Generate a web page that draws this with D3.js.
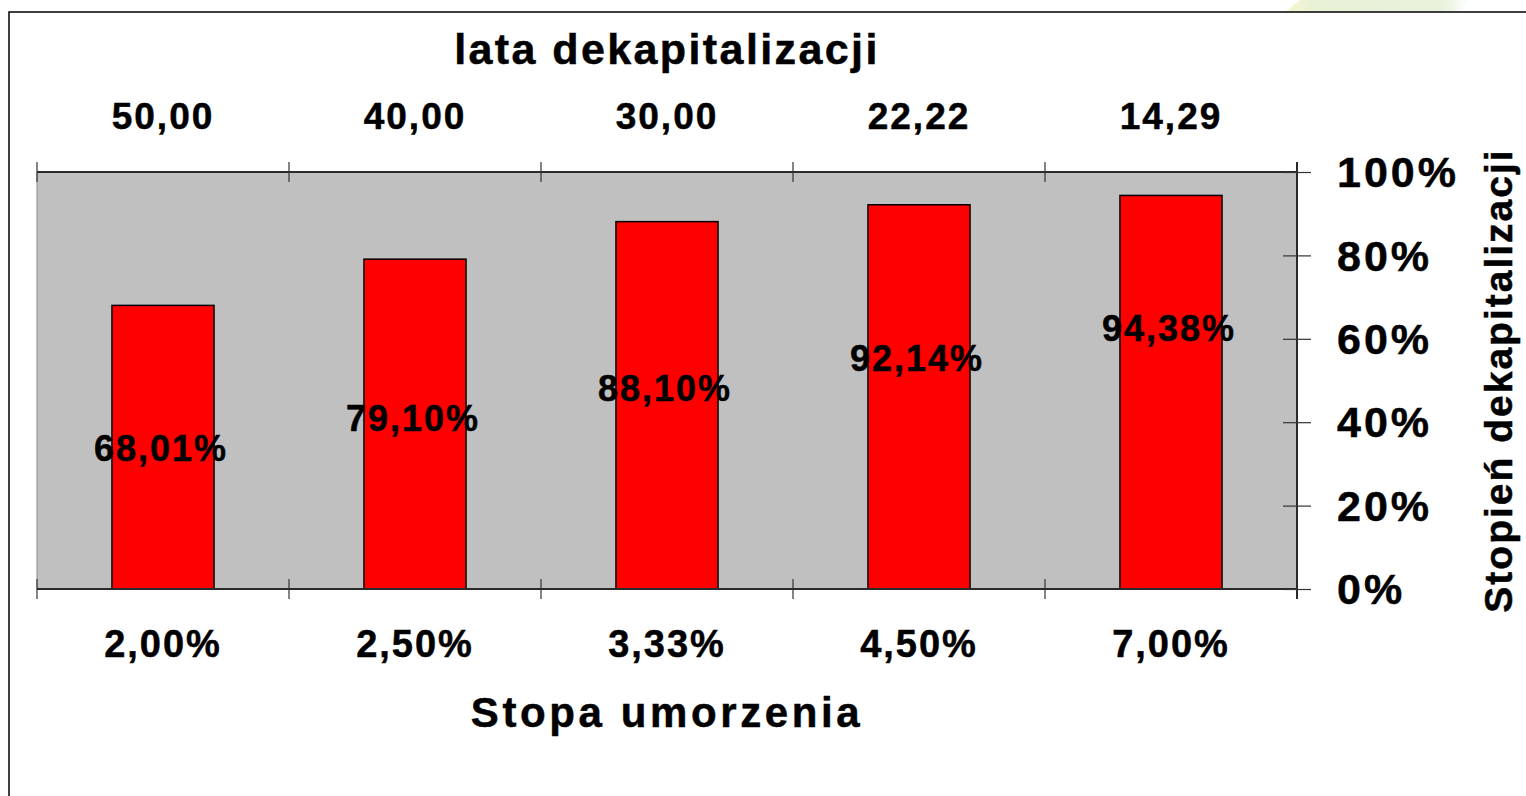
<!DOCTYPE html>
<html>
<head>
<meta charset="utf-8">
<script src="https://cdn.jsdelivr.net/npm/d3@7"></script>
<style>
  body { margin: 0; background: #fff; }
  text { font-family: "Liberation Sans", Arial, sans-serif; font-weight: bold; fill: #000; stroke: #000; stroke-width: 0.5px; }
</style>
</head>
<body>
<div id="container"></div>
<script>
const w = 1526;
const h = 796;

// data
const years = ["50,00", "40,00", "30,00", "22,22", "14,29"];       // lata dekapitalizacji (top)
const rates = ["2,00%", "2,50%", "3,33%", "4,50%", "7,00%"];       // stopa umorzenia (bottom)
const degree = [68.01, 79.10, 88.10, 92.14, 94.38];                // stopień dekapitalizacji
const yTicks = [0, 20, 40, 60, 80, 100];

const plot = { left: 37, right: 1297, top: 172, bottom: 589 };

const svg = d3.select("#container").append("svg")
  .attr("width", w).attr("height", h);

// faint background decoration in the top right corner
const grad = svg.append("defs").append("linearGradient")
  .attr("id", "deco").attr("x1", "0").attr("x2", "1");
grad.append("stop").attr("offset", "0").attr("stop-color", "#f7f4cf");
grad.append("stop").attr("offset", "0.2").attr("stop-color", "#e6f1d6");
grad.append("stop").attr("offset", "0.85").attr("stop-color", "#e9f2dc");
grad.append("stop").attr("offset", "1").attr("stop-color", "#ffffff");
svg.append("polygon")
  .attr("points", "1285,12 1300,0 1470,0 1460,12")
  .attr("fill", "url(#deco)");

// outer frame
svg.append("rect")
  .attr("x", 9).attr("y", 12)
  .attr("width", 1600).attr("height", 900)
  .attr("fill", "#fff").attr("stroke", "#000").attr("stroke-width", 1.5);

const x = d3.scaleBand()
  .domain(rates)
  .range([plot.left, plot.right])
  .paddingInner(0.595)
  .paddingOuter(0.2975);

const xEdge = d3.scaleLinear()
  .domain([0, rates.length])
  .range([plot.left, plot.right]);

const y = d3.scaleLinear()
  .domain([0, 100])
  .range([plot.bottom, plot.top]);

// plot area
svg.append("rect")
  .attr("x", plot.left).attr("y", plot.top)
  .attr("width", plot.right - plot.left).attr("height", plot.bottom - plot.top)
  .attr("fill", "#c0c0c0");
svg.append("line")
  .attr("x1", plot.left).attr("x2", plot.left)
  .attr("y1", plot.top).attr("y2", plot.bottom)
  .attr("stroke", "#8a8a8a").attr("stroke-width", 1);

// bars
svg.selectAll("rect.bar").data(degree).enter().append("rect")
  .attr("class", "bar")
  .attr("x", (d, i) => x(rates[i]))
  .attr("y", d => y(d))
  .attr("width", x.bandwidth())
  .attr("height", d => y(0) - y(d))
  .attr("fill", "#ff0000")
  .attr("stroke", "#000")
  .attr("stroke-width", 1.5);

// value labels, stepping up from bar to bar
const labelLevel = d3.scaleLinear().domain([0, degree.length - 1]).range([33.8, 62.6]);
svg.selectAll("text.val").data(degree).enter().append("text")
  .attr("class", "val")
  .attr("x", (d, i) => x(rates[i]) + x.bandwidth() / 2 - 2)
  .attr("y", (d, i) => y(labelLevel(i)))
  .attr("dy", "0.36em")
  .attr("text-anchor", "middle")
  .attr("font-size", 36)
  .attr("letter-spacing", 2)
  .text(d => d3.format(".2f")(d).replace(".", ",") + "%");

// axis lines
const axisColor = "#2a2a2a";
svg.append("line")
  .attr("x1", plot.left).attr("x2", plot.right)
  .attr("y1", plot.top).attr("y2", plot.top)
  .attr("stroke", axisColor).attr("stroke-width", 2);
svg.append("line")
  .attr("x1", plot.left).attr("x2", plot.right)
  .attr("y1", plot.bottom).attr("y2", plot.bottom)
  .attr("stroke", axisColor).attr("stroke-width", 2);

// crossing tick marks on category boundaries (top and bottom)
const edges = d3.range(rates.length + 1);
[plot.top, plot.bottom].forEach(function (yy) {
  svg.append("g").selectAll("line").data(edges).enter().append("line")
    .attr("x1", d => xEdge(d)).attr("x2", d => xEdge(d))
    .attr("y1", yy - 10).attr("y2", yy + 10)
    .attr("stroke", "#333").attr("stroke-width", 1.2);
});

// category labels
svg.append("g").selectAll("text").data(years).enter().append("text")
  .attr("x", (d, i) => x(rates[i]) + x.bandwidth() / 2)
  .attr("y", 129)
  .attr("text-anchor", "middle")
  .attr("font-size", 37)
  .attr("letter-spacing", 2)
  .text(d => d);

svg.append("g").selectAll("text").data(rates).enter().append("text")
  .attr("x", d => x(d) + x.bandwidth() / 2)
  .attr("y", 657)
  .attr("text-anchor", "middle")
  .attr("font-size", 38)
  .attr("letter-spacing", 2)
  .text(d => d);

// right value axis (ticks cross the line)
const yAxis = d3.axisRight(y)
  .tickValues(yTicks)
  .tickSize(14)
  .tickPadding(26)
  .tickFormat(d => d + "%");
const yAxisGroup = svg.append("g")
  .attr("transform", "translate(" + plot.right + ", 0)")
  .call(yAxis);
yAxisGroup.attr("font-family", null).attr("font-size", null);
yAxisGroup.select(".domain")
  .attr("stroke", axisColor).attr("stroke-width", 2)
  .attr("d", "M0," + (plot.top - 10) + "V" + (plot.bottom + 10));
yAxisGroup.selectAll(".tick line").attr("stroke", "#333").attr("stroke-width", 1.2);
yAxisGroup.selectAll(".tick text")
  .attr("font-size", 43)
  .attr("fill", "#000")
  .attr("letter-spacing", 3)
  .attr("dy", "0.34em");
svg.append("g")
  .attr("transform", "translate(" + plot.right + ", 0)")
  .call(d3.axisLeft(y).tickValues(yTicks).tickSize(14).tickFormat(""))
  .call(g => g.select(".domain").remove())
  .call(g => g.selectAll(".tick line").attr("stroke", "#333").attr("stroke-width", 1.2));

// titles
svg.append("text")
  .attr("x", (plot.left + plot.right) / 2)
  .attr("y", 64)
  .attr("text-anchor", "middle")
  .attr("font-size", 43)
  .attr("letter-spacing", 2.4)
  .text("lata dekapitalizacji");

svg.append("text")
  .attr("x", (plot.left + plot.right) / 2)
  .attr("y", 727)
  .attr("text-anchor", "middle")
  .attr("font-size", 42)
  .attr("letter-spacing", 3.6)
  .text("Stopa umorzenia");

svg.append("text")
  .attr("transform", "translate(1512," + ((plot.top + plot.bottom) / 2) + ") rotate(-90)")
  .attr("text-anchor", "middle")
  .attr("font-size", 39)
  .attr("letter-spacing", 2)
  .text("Stopień dekapitalizacji");
</script>
</body>
</html>
